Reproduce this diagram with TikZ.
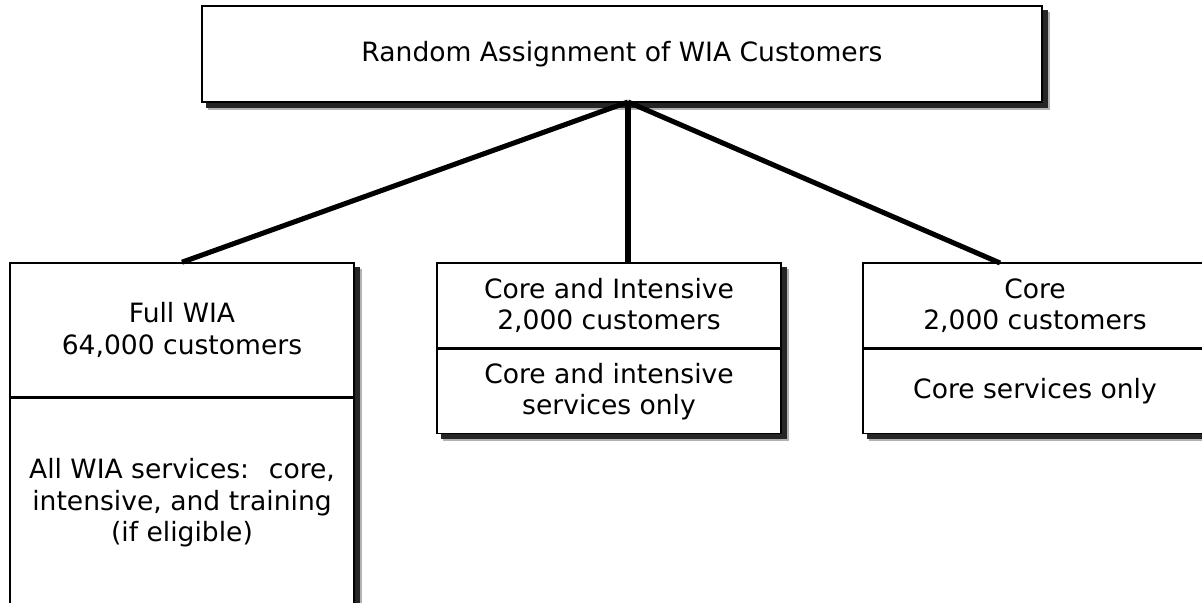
\documentclass[tikz,border=0pt]{standalone}
\usepackage{fontspec}
\setmainfont{DejaVu Sans}
\usetikzlibrary{positioning,fit,backgrounds}

\begin{document}
\begin{tikzpicture}[
    box/.style={draw=black, line width=1.1pt, fill=white, align=center, inner sep=0pt,
      font=\fontsize{18.9}{22.4}\selectfont},
    softshadow/.style={fill=black!30, draw=none, inner sep=0pt, xshift=5pt, yshift=-5pt},
    boxshadow/.style={fill=black!85, draw=none, inner sep=0pt, xshift=3.5pt, yshift=-3.5pt},
    link/.style={line width=3.6pt}]
    \useasboundingbox (0,0) rectangle (30.05,-15.075);

    \node[box, minimum width=21cm, minimum height=2.4cm] (assign) at (15.55,-1.35)
      {Random Assignment of WIA Customers};

    % the three groups
    \node[box, minimum width=8.6cm, minimum height=3.35cm] (fullhead) at (4.55,-8.25)
      {Full WIA\\64,000 customers};
    \node[box, minimum width=8.6cm, minimum height=5.225cm, below=0pt of fullhead] (fullbody)
      {All WIA services:~ core,\\intensive, and training\\(if eligible)};

    \node[box, minimum width=8.6cm, minimum height=2.125cm] (midhead) at (15.225,-7.6375)
      {Core and Intensive\\2,000 customers};
    \node[box, minimum width=8.6cm, minimum height=2.1cm, below=0pt of midhead] (midbody)
      {Core and intensive\\services only};

    \node[box, minimum width=8.6cm, minimum height=2.125cm] (corehead) at (25.875,-7.6375)
      {Core\\2,000 customers};
    \node[box, minimum width=8.6cm, minimum height=2.1cm, below=0pt of corehead] (corebody)
      {Core services only};

    % shadows behind the boxes
    \begin{scope}[on background layer]
      \node[softshadow, fit=(assign)] {};
      \node[softshadow, fit=(fullhead)(fullbody)] {};
      \node[softshadow, fit=(midhead)(midbody)] {};
      \node[softshadow, fit=(corehead)(corebody)] {};
      \node[boxshadow, fit=(assign)] {};
      \node[boxshadow, fit=(fullhead)(fullbody)] {};
      \node[boxshadow, fit=(midhead)(midbody)] {};
      \node[boxshadow, fit=(corehead)(corebody)] {};
    \end{scope}

    \coordinate (fork) at (15.7,-2.55);
    \coordinate (coretop) at (25.0,-6.575);

    \draw[link] (fork) -- (fullhead.north);
    \draw[link] (fork) -- (fork |- midhead.north);
    \draw[link] (fork) -- (coretop);
\end{tikzpicture}
\end{document}
